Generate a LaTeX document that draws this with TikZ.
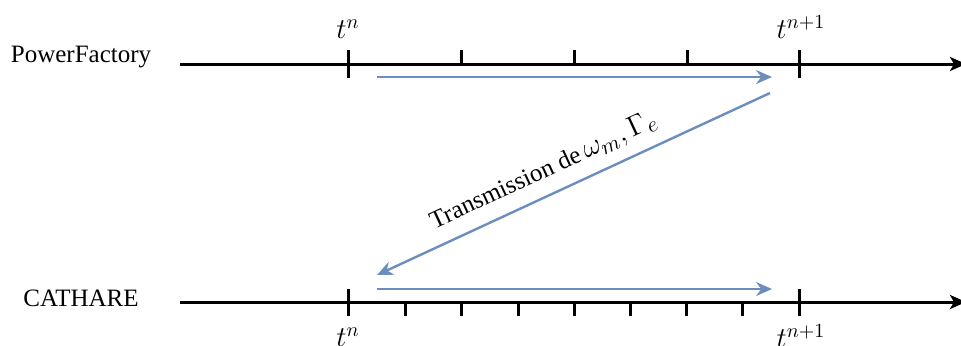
\documentclass[tikz,border=0pt]{standalone}
\usepackage{fontspec}
\setmainfont{Liberation Serif}
\usetikzlibrary{arrows.meta}
\definecolor{arrowblue}{RGB}{108,142,191}
\begin{document}
\begin{tikzpicture}[x=0.5pt,y=-0.5pt,
  axis/.style={line width=1.5pt,-{Stealth[length=8pt,width=7pt,inset=2pt]}},
  bigtick/.style={line width=1.5pt},
  smalltick/.style={line width=1.5pt},
  flow/.style={line width=1.2pt,color=arrowblue,-{Stealth[length=8pt,width=7pt]}},
  lbl/.style={font=\fontsize{12.5}{15}\selectfont,inner sep=0pt},
  tlbl/.style={font=\fontsize{14}{16}\selectfont,inner sep=0pt}]
\useasboundingbox[clip] (0,0) rectangle (961,345);
% axes
\coordinate (a1s) at (180,64);
\coordinate (a1e) at (966,64);
\coordinate (a2s) at (180,302);
\coordinate (a2e) at (966,302);
\draw[axis] (a1s) -- (a1e);
\draw[axis] (a2s) -- (a2e);
% labels
\node[lbl,anchor=center] (pf) at (81,57) {PowerFactory};
\node[lbl,anchor=center] (ca) at (81,298) {CATHARE};
% big ticks
\foreach \x in {348,799}{
  \draw[bigtick] (\x,50) -- (\x,78);
  \draw[bigtick] (\x,289) -- (\x,316);
}
% small ticks top
\foreach \x in {461,574,687}{
  \draw[smalltick] (\x,50) -- (\x,64);
}
% small ticks bottom
\foreach \x in {405,461,518,574,630,686,742}{
  \draw[smalltick] (\x,302) -- (\x,316);
}
% time labels
\node[tlbl] (tn1) at (348,29) {$t^{n}$};
\node[tlbl] (tnp1) at (801,27) {$t^{n+1}$};
\node[tlbl] (tn2) at (348,337) {$t^{n}$};
\node[tlbl] (tnp2) at (801,336) {$t^{n+1}$};
% blue arrows
\coordinate (p1) at (377,77);
\coordinate (p2) at (772,77);
\coordinate (q1) at (770,93);
\coordinate (q2) at (377,275);
\coordinate (r1) at (377,289);
\coordinate (r2) at (772,289);
\draw[flow] (p1) -- (p2);
\draw[flow] (q1) -- node[sloped,above=2pt,pos=0.55,text=black,font=\fontsize{12.5}{16}\selectfont] (tx) {Transmission de\,{\fontsize{15}{18}\selectfont$\omega_m,\Gamma_e$}} (q2);
\draw[flow] (r1) -- (r2);
\end{tikzpicture}
\end{document}
